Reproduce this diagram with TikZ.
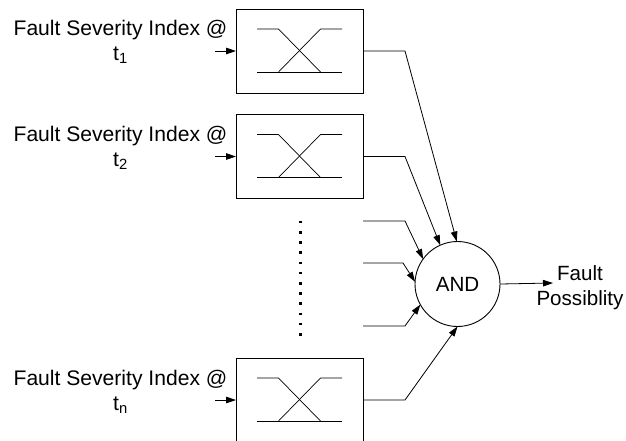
\documentclass[tikz,border=0pt]{standalone}
\usepackage{fontspec}
\setmainfont{Liberation Sans}
\usetikzlibrary{arrows.meta}
\begin{document}
\begin{tikzpicture}[x=1pt,y=-1pt,
  every node/.style={inner sep=0pt, outer sep=0pt},
  txt/.style={font=\fontsize{21.1}{25}\selectfont, align=center},
  fuzzybox/.style={draw, line width=0.9pt, minimum width=127pt, minimum height=84pt},
  gate/.style={draw, circle, line width=0.9pt, minimum size=85pt, font=\fontsize{20.6}{25}\selectfont},
  wire/.style={line width=0.8pt},
  arr/.style={wire, -{Triangle[length=10pt,width=6.5pt]}},
  mf/.style={line width=0.7pt}]
\useasboundingbox (0,0) rectangle (626,440);
\clip (0,0) rectangle (626,440);

% membership-function blocks
\node[fuzzybox] (box1) at (299.5,51) {};
\node[fuzzybox] (box2) at (299.5,156.5) {};
\node[fuzzybox] (boxn) at (299.5,400) {};

% crossing membership curves inside each block
\foreach \b in {box1,box2,boxn}{
  \draw[mf] ([shift={(-42.5,-22)}]\b.center) -- ([shift={(-21,-22)}]\b.center)
            -- ([shift={(21,21)}]\b.center);
  \draw[mf] ([shift={(42.5,-22)}]\b.center) -- ([shift={(21,-22)}]\b.center)
            -- ([shift={(-21,21)}]\b.center);
  \draw[mf] ([shift={(-42.5,21)}]\b.center) -- ([shift={(42.5,21)}]\b.center);
}

% input labels (base anchor sits on the last line)
\node[txt, anchor=base] (lab1) at (120.5,60) {Fault Severity Index @\\t\textsubscript{1}};
\node[txt, anchor=base] (lab2) at (120.5,166) {Fault Severity Index @\\t\textsubscript{2}};
\node[txt, anchor=base] (labn) at (120.5,410) {Fault Severity Index @\\t\textsubscript{n}};

% input arrows
\coordinate (in1) at (215,51);
\coordinate (in2) at (215,156.5);
\coordinate (inn) at (215,400);
\draw[arr] (in1) -- (box1.west);
\draw[arr] (in2) -- (box2.west);
\draw[arr] (inn) -- (boxn.west);

% AND gate
\node[gate] (and) at (457.5,284) {AND};

% block outputs into the gate
\draw[arr] (box1.east) -- (405,51) -- (and.91);
\draw[arr] (box2.east) -- (405,156.5) -- (and.114);
\draw[arr] (boxn.east) -- (405,400) -- (and.270);

% further inputs
\coordinate (s1) at (363,221);
\coordinate (s2) at (363,263);
\coordinate (s3) at (363,326);
\draw[arr] (s1) -- (405,221) -- (and.144);
\draw[arr] (s2) -- (403,263) -- (and.177);
\draw[arr] (s3) -- (405,326) -- (and.209);

% vertical ellipsis
\foreach \i in {0,...,11}
  \fill (298.5,{220.8+\i*10.2}) rectangle (301.5,{223.3+\i*10.2});

% output
\coordinate (o) at (553,283);
\draw[arr] (and.east) -- (o);
\node[txt, anchor=base, font=\fontsize{20.6}{25}\selectfont] (res) at (580,305) {Fault\\Possiblity};
\end{tikzpicture}
\end{document}
